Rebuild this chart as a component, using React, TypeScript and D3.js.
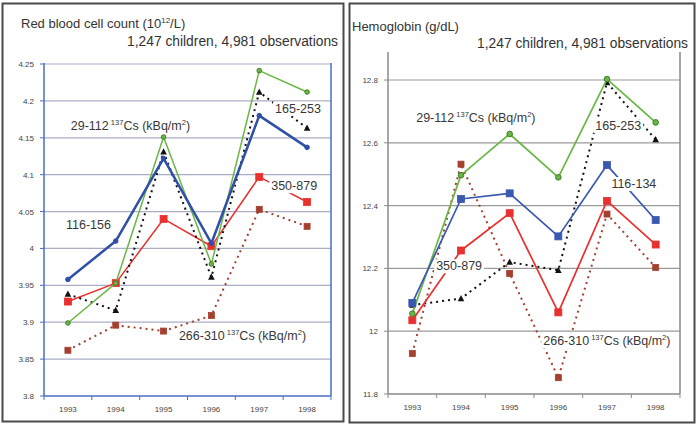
import React, { useLayoutEffect, useRef, useState } from "react";
import * as d3 from "d3";

const years = ["1993", "1994", "1995", "1996", "1997", "1998"];

// Red blood cell count (10^12/L)
const rbcGreen = [3.899, 3.953, 4.151, 3.979, 4.241, 4.212]; // 29-112
const rbcBlue = [3.958, 4.01, 4.122, 4.007, 4.18, 4.137]; // 116-156
const rbcBlack = [3.938, 3.916, 4.131, 3.961, 4.212, 4.163]; // 165-253
const rbcBrown = [3.862, 3.896, 3.888, 3.909, 4.053, 4.03]; // 266-310
const rbcRed = [3.928, 3.953, 4.04, 4.003, 4.097, 4.063]; // 350-879
const rbcTicks = [3.8, 3.85, 3.9, 3.95, 4.0, 4.05, 4.1, 4.15, 4.2, 4.25];
const rbcTickLabels = ["3.8", "3.85", "3.9", "3.95", "4", "4.05", "4.1", "4.15", "4.2", "4.25"];

// Hemoglobin (g/dL)
const hbGreen = [12.056, 12.497, 12.628, 12.49, 12.803, 12.665]; // 29-112
const hbBlue = [12.09, 12.421, 12.439, 12.302, 12.529, 12.354]; // 116-134
const hbBlack = [12.083, 12.104, 12.22, 12.194, 12.792, 12.61]; // 165-253
const hbBrown = [11.929, 12.532, 12.184, 11.852, 12.373, 12.203]; // 266-310
const hbRed = [12.035, 12.257, 12.376, 12.06, 12.415, 12.276]; // 350-879
const hbTicks = [11.8, 12.0, 12.2, 12.4, 12.6, 12.8];
const hbTickLabels = ["11.8", "12", "12.2", "12.4", "12.6", "12.8"];

const FONT = "'Liberation Sans', Arial, Helvetica, sans-serif";

type Series = {
  values: number[];
  color: string;
  width: number;
  dash?: string;
  marker: "circle" | "square" | "triangle" | "smallsquare";
  msize: number;
  mfill: string;
  mstroke?: string;
};

type Ann = { xi: number; yv: number; text: string; cs?: boolean };

function Label({ x, y, text, cs }: { x: number; y: number; text: string; cs?: boolean }) {
  const ref = useRef<SVGTextElement>(null);
  const [box, setBox] = useState<{ x: number; y: number; w: number; h: number } | null>(null);
  useLayoutEffect(() => {
    if (ref.current) {
      const b = ref.current.getBBox();
      setBox({ x: b.x - 2, y: b.y, w: b.width + 4, h: b.height });
    }
  }, [x, y, text]);
  return (
    <g>
      {box && <rect x={box.x} y={box.y} width={box.w} height={box.h} fill="#fff" />}
      <text ref={ref} x={x} y={y} fontSize={12.5} fill="#383838" fontFamily={FONT}>
        {text}
        {cs && (
          <>
            <tspan fontSize={7.5} dy={-5}> 137</tspan>
            <tspan dy={5}>Cs (kBq/m</tspan>
            <tspan fontSize={7.5} dy={-5}>2</tspan>
            <tspan dy={5}>)</tspan>
          </>
        )}
      </text>
    </g>
  );
}

function Marker({ s, x, y }: { s: Series; x: number; y: number }) {
  const m = s.msize;
  if (s.marker === "circle")
    return <circle cx={x} cy={y} r={m} fill={s.mfill} stroke={s.mstroke || s.mfill} strokeWidth={1} />;
  if (s.marker === "square" || s.marker === "smallsquare")
    return (
      <rect x={x - m} y={y - m} width={2 * m} height={2 * m} fill={s.mfill} stroke={s.mstroke || s.mfill} strokeWidth={0.8} />
    );
  const path = `M${x},${y - m * 1.1} L${x + m},${y + m * 0.8} L${x - m},${y + m * 0.8} Z`;
  return <path d={path} fill={s.mfill} />;
}

function Panel(props: {
  frame: [number, number, number, number];
  left: number;
  right: number;
  top: number;
  bottom: number;
  domain: [number, number];
  yTop: number;
  ticks: number[];
  tickLabels: string[];
  series: Series[];
  axisColor: string;
  gridColor: string;
  axisWidth: number;
  title: string;
  titleSup?: string;
  titleEnd?: string;
  titleX: number;
  titleY: number;
  subX: number;
  subY: number;
  anns: Ann[];
}) {
  const p = props;
  const band = d3.scaleBand<string>().domain(years).range([p.left, p.right]).padding(0);
  const xi = d3
    .scaleLinear()
    .domain([0, years.length - 1])
    .range([band(years[0])! + band.bandwidth() / 2, band(years[years.length - 1])! + band.bandwidth() / 2]);
  const y = d3.scaleLinear().domain(p.domain).range([p.bottom, p.yTop]);
  const line = d3
    .line<number>()
    .x((_, i) => xi(i))
    .y((v) => y(v));
  const [fx, fy, fw, fh] = p.frame;
  const boundaries = d3.range(years.length + 1).map((i) => p.left + i * band.bandwidth());
  return (
    <g>
      <rect x={fx} y={fy} width={fw} height={fh} fill="#fff" stroke="#4a4a4a" strokeWidth={2} />
      {p.ticks.map((t, i) =>
        i === 0 ? null : (
          <line key={"g" + i} x1={p.left} x2={p.right} y1={y(t)} y2={y(t)} stroke={p.gridColor} strokeWidth={1.2} />
        )
      )}
      <line x1={p.left} x2={p.left} y1={p.top} y2={p.bottom} stroke={p.axisColor} strokeWidth={p.axisWidth} />
      <line x1={p.right} x2={p.right} y1={p.top} y2={p.bottom} stroke={p.axisColor} strokeWidth={p.axisWidth} />
      <line x1={p.left} x2={p.right} y1={p.bottom} y2={p.bottom} stroke={p.axisColor} strokeWidth={p.axisWidth} />
      {p.ticks.map((t, i) => (
        <g key={"t" + i}>
          <line x1={p.left - 4} x2={p.left} y1={y(t)} y2={y(t)} stroke={p.axisColor} strokeWidth={1} />
          <text x={p.left - 10} y={y(t) + 3} textAnchor="end" fontSize={8} fill="#444" fontFamily={FONT}>
            {p.tickLabels[i]}
          </text>
        </g>
      ))}
      {boundaries.map((bx, i) => (
        <line key={"b" + i} x1={bx} x2={bx} y1={p.bottom} y2={p.bottom + 4} stroke={p.axisColor} strokeWidth={1} />
      ))}
      {years.map((yr) => (
        <text
          key={yr}
          x={band(yr)! + band.bandwidth() / 2}
          y={p.bottom + 16}
          textAnchor="middle"
          fontSize={8}
          fill="#444"
          fontFamily={FONT}
        >
          {yr}
        </text>
      ))}
      {p.series.map((s, k) => (
        <g key={"s" + k}>
          <path
            d={line(s.values)!}
            fill="none"
            stroke={s.color}
            strokeWidth={s.width}
            strokeDasharray={s.dash}
            strokeLinejoin="round"
          />
          {s.values.map((v, i) => (
            <Marker key={i} s={s} x={xi(i)} y={y(v)} />
          ))}
        </g>
      ))}
      <text x={p.titleX} y={p.titleY} fontSize={13} fill="#333" fontFamily={FONT}>
        {p.title}
        {p.titleSup && (
          <>
            <tspan fontSize={8} dy={-5}>{p.titleSup}</tspan>
            <tspan dy={5}>{p.titleEnd}</tspan>
          </>
        )}
      </text>
      <text x={p.subX} y={p.subY} textAnchor="end" fontSize={13.8} fill="#333" fontFamily={FONT}>
        1,247 children, 4,981 observations
      </text>
      {p.anns.map((a, i) => (
        <Label key={"a" + i} x={xi(a.xi)} y={y(a.yv)} text={a.text} cs={a.cs} />
      ))}
    </g>
  );
}

const BLUE = "#2f4fa8";
const GREEN = "#6ab646";
const RED = "#e8312f";
const BROWN = "#a3402f";
const BLACK = "#111";

export default function App() {
  const rbcSeries: Series[] = [
    { values: rbcBrown, color: BROWN, width: 2, dash: "2 4", marker: "smallsquare", msize: 3, mfill: BROWN },
    { values: rbcRed, color: RED, width: 1.5, marker: "square", msize: 3.5, mfill: RED },
    { values: rbcBlack, color: BLACK, width: 2, dash: "2 4", marker: "triangle", msize: 3.3, mfill: BLACK },
    { values: rbcGreen, color: GREEN, width: 1.5, marker: "circle", msize: 2.3, mfill: GREEN, mstroke: "#3f7f2a" },
    { values: rbcBlue, color: BLUE, width: 2.5, marker: "circle", msize: 2.3, mfill: BLUE },
  ];
  const hbSeries: Series[] = [
    { values: hbBrown, color: BROWN, width: 2, dash: "2 4", marker: "smallsquare", msize: 3, mfill: BROWN },
    { values: hbBlack, color: BLACK, width: 2, dash: "2 4", marker: "triangle", msize: 3.3, mfill: BLACK },
    { values: hbRed, color: RED, width: 1.7, marker: "square", msize: 3.5, mfill: RED },
    { values: hbGreen, color: GREEN, width: 1.7, marker: "circle", msize: 2.8, mfill: GREEN, mstroke: "#3f7f2a" },
    { values: hbBlue, color: "#3a58b0", width: 1.7, marker: "square", msize: 3.5, mfill: "#3a58b0" },
  ];
  const rbcAnns: Ann[] = [
    { xi: 0.06, yv: 4.16, text: "29-112", cs: true },
    { xi: 4.33, yv: 4.184, text: "165-253" },
    { xi: 4.25, yv: 4.079, text: "350-879" },
    { xi: -0.04, yv: 4.026, text: "116-156" },
    { xi: 2.32, yv: 3.876, text: "266-310", cs: true },
  ];
  const hbAnns: Ann[] = [
    { xi: 0.08, yv: 12.666, text: "29-112", cs: true },
    { xi: 3.76, yv: 12.64, text: "165-253" },
    { xi: 4.09, yv: 12.456, text: "116-134" },
    { xi: 0.49, yv: 12.194, text: "350-879" },
    { xi: 2.69, yv: 11.955, text: "266-310", cs: true },
  ];
  return (
    <div style={{ position: "fixed", left: 0, top: 0 }}>
      <svg width={696} height={425} style={{ display: "block", background: "#fff" }}>
        <Panel
          frame={[2.5, 3.5, 341, 418]}
          left={44}
          right={331}
          top={63}
          bottom={396}
          domain={[3.8, 4.25]}
          yTop={64}
          ticks={rbcTicks}
          tickLabels={rbcTickLabels}
          series={rbcSeries}
          axisColor="#4a6cc4"
          gridColor="#a9aec4"
          axisWidth={1.5}
          title="Red blood cell count (10"
          titleSup="12"
          titleEnd="/L)"
          titleX={21}
          titleY={28}
          subX={338}
          subY={46}
          anns={rbcAnns}
        />
        <Panel
          frame={[349.5, 3.5, 345, 419]}
          left={388}
          right={680}
          top={52}
          bottom={394}
          domain={[11.8, 12.8]}
          yTop={80}
          ticks={hbTicks}
          tickLabels={hbTickLabels}
          series={hbSeries}
          axisColor="#8a8a8a"
          gridColor="#9a9a9a"
          axisWidth={1.5}
          title="Hemoglobin (g/dL)"
          titleX={352}
          titleY={31}
          subX={688}
          subY={48}
          anns={hbAnns}
        />
      </svg>
    </div>
  );
}
